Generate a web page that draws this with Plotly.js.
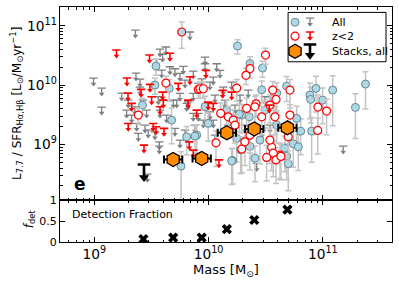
<!DOCTYPE html>
<html>
<head>
<meta charset="utf-8">
<script src="https://cdn.plot.ly/plotly-3.0.1.min.js"></script>
<style>html,body{margin:0;padding:0;background:#fff}#chart{width:399px;height:286px}</style>
</head>
<body>
<div id="chart"></div>
<script>
// ---- data (log10 values) ----
// All galaxies, non-detections (upper limits)
const allLimLogMass = [9.360,8.993,9.065,9.065,9.575,9.627,9.598,9.365,9.400,9.400,9.240,9.426,9.297,9.356,9.371,9.458,9.560,9.575,9.750,9.808,9.866,9.866,9.691,9.590,9.662,9.750,9.794,9.910,9.837,9.969,9.969,9.779,9.866,10.071,10.100,10.041,10.012,10.202,10.129,9.940,9.706,10.347,10.493,11.178,9.706,9.750,9.794,9.910,10.012,9.954,10.041,9.822,9.721,10.421,9.385,9.472,9.569,9.283,9.327,9.531,9.444,9.633,9.464,9.546,9.569,10.056,10.143,10.231,10.275,10.056,10.170,10.318,10.467,10.537,9.881];
const allLimLogL    = [10.927,10.118,9.949,9.629,10.607,10.641,10.523,10.202,10.101,9.966,9.865,9.747,9.747,9.634,9.354,9.578,9.803,9.578,9.860,9.691,9.860,9.523,9.747,10.253,10.309,10.197,10.084,10.029,10.894,10.472,10.359,10.315,10.236,10.359,10.248,10.135,10.051,10.051,9.966,10.106,10.275,9.916,9.803,8.971,9.270,9.073,9.241,9.523,9.550,9.410,9.410,9.718,9.747,8.680,9.185,9.241,9.044,9.578,9.494,9.212,9.325,9.494,8.499,10.433,8.971,9.157,9.747,9.663,9.831,9.831,9.325,9.325,9.241,9.325,9.325];
// z<2, non-detections (upper limits)
const z2LimLogMass = [9.194,9.483,9.286,9.295,9.487,9.598,9.409,9.502,9.604,9.662,9.735,9.837,9.822,9.297,9.516,9.977,10.123,10.202,9.997,10.531,10.041,10.091,9.866,9.831,9.896,9.435,9.575,9.540,9.610,9.327];
const z2LimLogL    = [10.590,10.506,10.118,9.865,10.012,9.882,9.927,9.803,9.747,10.535,10.029,10.140,9.747,9.354,9.354,10.248,9.911,9.882,9.713,9.663,9.691,8.740,8.904,9.044,9.578,8.988,9.634,9.297,9.270,9.691];
// All galaxies, detections
const allDetLogMass = [9.540,9.531,9.656,9.422,9.677,9.808,9.896,10.253,10.362,10.472,10.465,10.566,10.596,10.683,10.887,10.893,10.940,10.998,11.086,11.285,11.373,10.158,10.290,10.493,10.356,10.771,10.902,10.741,10.785,10.806,10.683,10.697,10.668,10.362,10.406,10.211,10.281,10.269,9.969,9.997,9.881,10.246,10.202,9.759,10.596,10.450];
const allDetLogL    = [10.320,10.000,9.944,9.663,9.410,9.128,9.157,10.658,10.363,10.287,9.921,9.769,9.865,9.983,9.831,9.759,9.944,9.747,9.916,9.624,10.017,9.578,9.494,9.578,9.465,9.438,9.224,9.013,8.960,9.224,8.803,8.676,8.938,8.966,8.769,8.730,8.909,9.511,9.634,9.354,9.140,9.101,8.723,8.634,9.325,9.073];
const allDetErrFrac = [0.3,0.3,0.4,0.3,0.6,0.5,0.5,0.27,0.3,0.3,0.4,0.5,0.5,0.45,0.6,0.6,0.6,0.6,0.75,0.7,0.62,0.5,0.5,0.5,0.5,0.6,0.7,0.6,0.6,0.6,0.6,0.65,0.6,0.6,0.6,0.6,0.6,0.5,0.5,0.5,0.5,0.6,0.6,0.75,0.5,0.6];
// z<2 detections also shown in the All sample (blue filled, red edge)
const bothDetLogMass = [9.765];
const bothDetLogL    = [10.894];
const bothDetErrFrac = [0.47];
// z<2, detections
const z2DetLogMass = [9.627,9.385,9.910,10.498,10.362,10.327,9.925,9.954,10.246,10.415,10.590,10.712,10.561,10.957,11.033,10.172,10.465,10.406,10.106,10.216,10.581,10.712,10.955,10.697,10.625,10.552,10.566,10.508,10.590,10.633,10.290,10.065,10.333,10.537,10.231,10.318,10.537,10.362];
const z2DetLogL    = [10.034,9.494,9.927,10.506,10.278,10.164,9.938,9.938,9.949,9.685,9.759,9.916,9.916,9.629,9.562,9.465,9.465,9.634,9.523,9.410,9.465,9.494,9.236,9.128,8.820,8.954,8.853,8.781,8.740,8.798,8.921,9.027,9.607,9.663,9.325,9.044,9.073,9.157];
const z2DetErrFrac = [0.3,0.3,0.3,0.3,0.3,0.3,0.3,0.3,0.4,0.4,0.4,0.5,0.4,0.6,0.6,0.5,0.5,0.5,0.5,0.5,0.5,0.5,0.6,0.6,0.6,0.6,0.6,0.6,0.6,0.6,0.6,0.6,0.5,0.5,0.5,0.6,0.6,0.5];
// Stacks
const stackLogMass = [9.69,9.94,10.16,10.40,10.69];
const stackLogL    = [8.747,8.764,9.196,9.261,9.280];
const stackMassErrDex = [0.08,0.08,0.08,0.08,0.08];
const stackLimLogMass = [9.435];
const stackLimLogL    = [8.663];
// Detection fraction
const fracLogMass = [9.43,9.69,9.94,10.16,10.40,10.69];
const detFraction = [0.07,0.105,0.105,0.31,0.53,0.78];
const legendLabels = ['All','z&lt;2','Stacks, all'];

// ---- helpers ----
const P = v => Math.pow(10, v);
const lin = a => a.map(P);
const FONT = 'DejaVu Sans, sans-serif';

function arrowTraces(lm, ll, color, capSize, lw, headSize, shaftDex) {
  const x = lin(lm), y = lin(ll);
  const sx = [], sy = [], hy = [];
  x.forEach((xv, i) => {
    const yb = y[i] * Math.pow(10, -shaftDex);
    sx.push(xv, xv, null); sy.push(y[i], yb, null); hy.push(yb);
  });
  return [
    {x: sx, y: sy, mode: 'lines', line: {color: color, width: lw}, hoverinfo: 'skip', xaxis: 'x', yaxis: 'y'},
    {x: x, y: y, mode: 'markers', marker: {symbol: 'line-ew', size: capSize, line: {color: color, width: lw}}, hoverinfo: 'skip', xaxis: 'x', yaxis: 'y'},
    {x: x, y: hy, mode: 'markers', marker: {symbol: 'triangle-down', size: headSize, color: color, line: {width: 0}}, hoverinfo: 'skip', xaxis: 'x', yaxis: 'y'}
  ];
}

function detTrace(lm, ll, ef, fill, edge, edgeW) {
  const y = lin(ll);
  return {
    x: lin(lm), y: y, mode: 'markers', xaxis: 'x', yaxis: 'y',
    error_y: {type: 'data', array: y.map((v, i) => v * ef[i]), color: '#c4c4c4', thickness: 1.5, width: 3},
    marker: {symbol: 'circle', size: 8, color: fill, line: {color: edge, width: edgeW}},
    hoverinfo: 'skip'
  };
}

const GRAY = '#7f7f7f';
const traces = [];
traces.push(...arrowTraces(allLimLogMass, allLimLogL, GRAY, 6, 1.3, 5, 0.1));
traces.push(detTrace(allDetLogMass, allDetLogL, allDetErrFrac, '#add8e6', '#5f7d88', 0.9));
traces.push(detTrace(bothDetLogMass, bothDetLogL, bothDetErrFrac, '#add8e6', '#ff0000', 1.2));
traces.push(detTrace(z2DetLogMass, z2DetLogL, z2DetErrFrac, '#ffffff', '#ff0000', 1.2));
traces.push(...arrowTraces(z2LimLogMass, z2LimLogL, '#ff0000', 6, 1.6, 5, 0.1));
// stacks
const sx = lin(stackLogMass);
traces.push({
  x: sx, y: lin(stackLogL), mode: 'markers', xaxis: 'x', yaxis: 'y',
  error_x: {type: 'data', symmetric: false,
    array: stackLogMass.map((m, i) => P(m + stackMassErrDex[i]) - P(m)),
    arrayminus: stackLogMass.map((m, i) => P(m) - P(m - stackMassErrDex[i])),
    color: '#000', thickness: 2, width: 4},
  marker: {symbol: 'hexagon', size: 14, color: '#ff8c00', line: {color: '#000', width: 1.3}},
  hoverinfo: 'skip'
});
traces.push(...arrowTraces(stackLimLogMass, stackLimLogL, '#000', 9, 2.6, 9, 0.22));
// detection fraction
traces.push({
  x: lin(fracLogMass), y: detFraction, mode: 'markers', xaxis: 'x2', yaxis: 'y2',
  marker: {symbol: 'x', size: 9, color: '#000', line: {width: 0}}, hoverinfo: 'skip'
});

// ---- legend glyphs (overlay axes in panel fractions) ----
const rowY = [0.921, 0.849, 0.771];
const gx = 0.708, ax = 0.753;
function legArrow(yc, color, lw, capSize, headSize, up, down) {
  return [
    {x: [ax, ax], y: [yc + up, yc - down], mode: 'lines', line: {color: color, width: lw}, xaxis: 'x3', yaxis: 'y3', hoverinfo: 'skip'},
    {x: [ax], y: [yc + up], mode: 'markers', marker: {symbol: 'line-ew', size: capSize, line: {color: color, width: lw}}, xaxis: 'x3', yaxis: 'y3', hoverinfo: 'skip'},
    {x: [ax], y: [yc - down], mode: 'markers', marker: {symbol: 'triangle-down', size: headSize, color: color, line: {width: 0}}, xaxis: 'x3', yaxis: 'y3', hoverinfo: 'skip'}
  ];
}
traces.push({x: [gx], y: [rowY[0]], mode: 'markers', marker: {symbol: 'circle', size: 8, color: '#add8e6', line: {color: '#5f7d88', width: 0.9}}, xaxis: 'x3', yaxis: 'y3', hoverinfo: 'skip'});
traces.push({x: [gx], y: [rowY[1]], mode: 'markers', marker: {symbol: 'circle', size: 8, color: '#fff', line: {color: '#ff0000', width: 1.2}}, xaxis: 'x3', yaxis: 'y3', hoverinfo: 'skip'});
traces.push({x: [gx], y: [rowY[2]], mode: 'markers', marker: {symbol: 'hexagon', size: 14, color: '#ff8c00', line: {color: '#000', width: 1.3}}, xaxis: 'x3', yaxis: 'y3', hoverinfo: 'skip'});
traces.push(...legArrow(rowY[0], GRAY, 1.3, 6, 5, 0.022, 0.01));
traces.push(...legArrow(rowY[1], '#ff0000', 1.6, 6, 5, 0.022, 0.01));
traces.push(...legArrow(rowY[2], '#000', 2.6, 9, 9, 0.035, 0.02));

const baseAxis = {
  showline: true, linecolor: '#000', linewidth: 1, mirror: 'allticks',
  ticks: 'inside', ticklen: 5, tickwidth: 1, tickcolor: '#000',
  showgrid: false, zeroline: false,
  tickfont: {family: FONT, size: 11, color: '#000'}
};
const logAxis = Object.assign({}, baseAxis, {
  type: 'log', dtick: 1, exponentformat: 'power',
  minor: {ticks: 'inside', ticklen: 2.5, tickcolor: '#000', dtick: 'D1', showgrid: false}
});

function ann(x, y, text, size, opts) {
  return Object.assign({xref: 'paper', yref: 'paper', x: x, y: y, text: text, showarrow: false,
    xanchor: 'center', yanchor: 'middle', font: {family: FONT, size: size, color: '#000'}}, opts || {});
}

const layout = {
  width: 399, height: 286,
  margin: {l: 60, r: 7, t: 7, b: 44},
  paper_bgcolor: '#fff', plot_bgcolor: 'rgba(0,0,0,0)',
  showlegend: false,
  font: {family: FONT, color: '#000'},
  xaxis: Object.assign({}, logAxis, {range: [8.700, 11.605], domain: [0, 1], anchor: 'y', showticklabels: false}),
  yaxis: Object.assign({}, logAxis, {range: [8.056, 11.315], domain: [0.1766, 1], anchor: 'x'}),
  xaxis2: Object.assign({}, logAxis, {range: [8.700, 11.605], domain: [0, 1], anchor: 'y2'}),
  yaxis2: Object.assign({}, baseAxis, {range: [0, 1], domain: [0, 0.1766], anchor: 'x2',
    tickvals: [0, 0.5, 1], ticktext: ['0', '0.5', '1']}),
  xaxis3: {overlaying: 'x', range: [0, 1], visible: false, fixedrange: true},
  yaxis3: {overlaying: 'y', range: [0, 1], visible: false, fixedrange: true},
  shapes: [
    {type: 'rect', xref: 'paper', yref: 'paper', x0: 0.687, x1: 0.982, y0: 0.767, y1: 0.977,
     line: {color: '#000', width: 1}, fillcolor: '#fff', layer: 'below'}
  ],
  annotations: [
    ann(-0.1295, 0.587, 'L<sub>7.7</sub> / SFR<sub>Hα,Hβ</sub> [L<sub>⊙</sub>/M<sub>⊙</sub>yr<sup>−1</sup>]', 12, {textangle: -90}),
    ann(-0.0904, 0.101, '<i>f</i><sub>det</sub>', 12, {textangle: -90}),
    ann(0.5, -0.121, 'Mass [M<sub>⊙</sub>]', 13),
    ann(0.030, 0.118, 'Detection Fraction', 11, {xanchor: 'left'}),
    ann(0.036, 0.246, '<b>e</b>', 17, {xanchor: 'left'}),
    ann(0.813, 0.935, legendLabels[0], 11, {xanchor: 'left'}),
    ann(0.813, 0.875, legendLabels[1], 11, {xanchor: 'left'}),
    ann(0.813, 0.811, legendLabels[2], 11, {xanchor: 'left'})
  ]
};

Plotly.newPlot('chart', traces, layout, {staticPlot: true, displayModeBar: false});
</script>
</body>
</html>
